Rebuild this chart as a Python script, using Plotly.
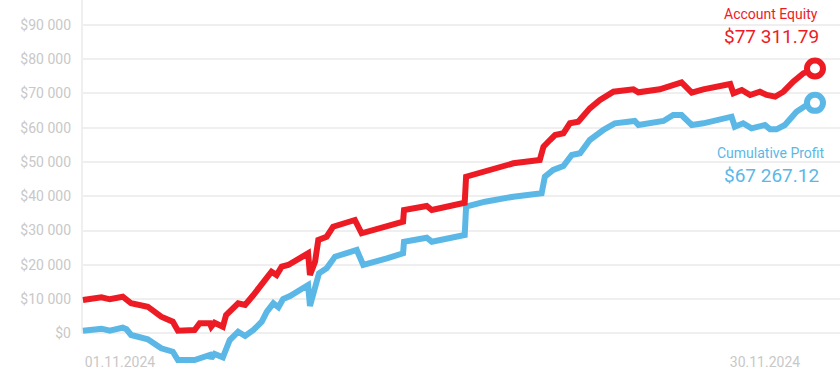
import plotly.graph_objects as go

# ---- data ----
profit_dates = [
    "2024-10-30 08:00", "2024-10-31 04:00", "2024-10-31 13:00", "2024-11-01 03:00",
    "2024-11-01 07:00", "2024-11-01 12:00", "2024-11-02 06:00", "2024-11-02 20:30",
    "2024-11-03 09:00", "2024-11-03 14:30", "2024-11-04 08:30", "2024-11-04 17:30",
    "2024-11-05 01:00", "2024-11-05 02:30", "2024-11-05 06:00", "2024-11-05 15:00",
    "2024-11-05 17:00", "2024-11-05 22:30", "2024-11-06 07:30", "2024-11-06 15:00",
    "2024-11-07 00:00", "2024-11-07 09:00", "2024-11-07 14:30", "2024-11-07 21:30",
    "2024-11-08 03:00", "2024-11-08 08:00", "2024-11-08 15:30", "2024-11-09 11:00",
    "2024-11-09 13:00", "2024-11-09 18:30", "2024-11-09 22:45", "2024-11-10 07:00",
    "2024-11-10 16:00", "2024-11-11 15:30", "2024-11-11 22:30", "2024-11-13 00:00",
    "2024-11-13 17:30", "2024-11-13 18:30", "2024-11-14 19:00", "2024-11-15 00:30",
    "2024-11-16 12:00", "2024-11-16 13:30", "2024-11-17 10:00", "2024-11-18 16:30",
    "2024-11-19 23:00", "2024-11-20 02:30", "2024-11-20 11:30", "2024-11-20 22:30",
    "2024-11-21 07:30", "2024-11-21 16:30", "2024-11-22 03:00", "2024-11-22 17:30",
    "2024-11-23 06:00", "2024-11-24 03:30", "2024-11-24 07:30", "2024-11-25 10:30",
    "2024-11-25 21:00", "2024-11-26 06:00", "2024-11-26 17:00", "2024-11-27 05:30",
    "2024-11-28 12:00", "2024-11-28 15:30", "2024-11-29 00:30", "2024-11-29 09:30",
    "2024-11-30 00:00", "2024-11-30 05:30", "2024-11-30 12:30", "2024-11-30 21:30",
    "2024-12-01 10:00", "2024-12-01 21:00", "2024-12-02 06:00",
]
cumulative_profit = [
    759, 1343, 759, 1635,
    1168, -496, -1751, -4379,
    -5371, -7794, -7794, -7006,
    -6334, -7298, -6042, -7006,
    -5838, -1956, 467, -788,
    963, 3386, 6305, 8757,
    7589, 10012, 10888, 14099,
    7969, 12639, 17514, 18974,
    22360, 24315, 19937, 21893,
    23352, 26738, 27906, 26738,
    28694, 36955, 38414, 39874,
    40866, 45712, 47667, 48835,
    52046, 52542, 56424, 59343,
    61299, 61970, 60803, 61970,
    63722, 63722, 60803, 61299,
    63226, 60307, 61299, 59840,
    60803, 59548, 59548, 60803,
    64685, 66641, 67267.12,
]

equity_dates = [
    "2024-10-30 08:00", "2024-10-31 04:00", "2024-10-31 13:00", "2024-11-01 03:00",
    "2024-11-01 12:00", "2024-11-02 06:00", "2024-11-02 20:30", "2024-11-03 09:00",
    "2024-11-03 14:30", "2024-11-04 08:30", "2024-11-04 14:00", "2024-11-05 01:00",
    "2024-11-05 02:30", "2024-11-05 06:00", "2024-11-05 15:00", "2024-11-05 18:30",
    "2024-11-06 07:30", "2024-11-06 15:00", "2024-11-07 00:00", "2024-11-07 09:00",
    "2024-11-07 19:30", "2024-11-08 01:00", "2024-11-08 06:30", "2024-11-08 13:30",
    "2024-11-09 11:00", "2024-11-09 13:00", "2024-11-09 18:30", "2024-11-09 22:00",
    "2024-11-10 07:00", "2024-11-10 14:00", "2024-11-11 13:30", "2024-11-11 20:45",
    "2024-11-13 00:00", "2024-11-13 17:30", "2024-11-13 18:30", "2024-11-14 19:00",
    "2024-11-15 00:30", "2024-11-16 12:00", "2024-11-16 13:30", "2024-11-17 08:00",
    "2024-11-18 16:30", "2024-11-19 21:00", "2024-11-20 01:00", "2024-11-20 08:00",
    "2024-11-20 13:30", "2024-11-20 22:30", "2024-11-21 05:30", "2024-11-21 14:30",
    "2024-11-22 03:00", "2024-11-22 14:00", "2024-11-23 04:30", "2024-11-24 02:00",
    "2024-11-24 07:30", "2024-11-25 06:30", "2024-11-25 21:00", "2024-11-26 06:00",
    "2024-11-26 17:00", "2024-11-27 05:30", "2024-11-28 10:30", "2024-11-28 14:00",
    "2024-11-28 23:00", "2024-11-29 08:00", "2024-11-29 18:30", "2024-11-30 02:00",
    "2024-11-30 11:00", "2024-11-30 20:00", "2024-12-01 06:30", "2024-12-01 17:30",
    "2024-12-02 06:00",
]
account_equity = [
    9720, 10508, 9925, 10684,
    8757, 7765, 4846, 3386,
    759, 963, 2919, 2919,
    1927, 3094, 1927, 5342,
    8757, 8261, 11180, 14595,
    17981, 17018, 19441, 19937,
    23352, 17018, 20900, 27234,
    28198, 31117, 33072, 29190,
    31117, 32576, 35991, 37159,
    35991, 38122, 45712, 47171,
    49623, 50586, 54469, 56424,
    57884, 58380, 61299, 61766,
    65678, 68100, 70523, 71224,
    70348, 71224, 72771, 73267,
    70231, 71224, 72771, 70056,
    71019, 69560, 70523, 69560,
    69064, 70523, 73442, 75894,
    77311.79,
]

y_tick_values = [0, 10000, 20000, 30000, 40000, 50000, 60000, 70000, 80000, 90000]
y_tick_labels = ["$0", "$10 000", "$20 000", "$30 000", "$40 000",
                 "$50 000", "$60 000", "$70 000", "$80 000", "$90 000"]
x_tick_values = ["2024-11-01", "2024-11-30"]
x_tick_labels = ["01.11.2024", "30.11.2024"]

equity_label = "Account Equity"
equity_value_text = "$77 311.79"
profit_label = "Cumulative Profit"
profit_value_text = "$67 267.12"

# ---- styling ----
RED = "#ed1c24"
BLUE = "#5bb8e6"
GRID = "#efefef"
TICK = "#c8c8c8"
FONT = "Roboto"

Y_MIN, Y_MAX = -14507, 97290
X_MIN, X_MAX = "2024-10-30 07:00", "2024-12-03 09:00"

fig = go.Figure()

fig.add_trace(go.Scatter(
    x=profit_dates, y=cumulative_profit, mode="lines",
    line=dict(color=BLUE, width=6), hoverinfo="skip", showlegend=False,
))
fig.add_trace(go.Scatter(
    x=equity_dates, y=account_equity, mode="lines",
    line=dict(color=RED, width=6), hoverinfo="skip", showlegend=False,
))
# end markers
fig.add_trace(go.Scatter(
    x=[profit_dates[-1]], y=[cumulative_profit[-1]], mode="markers",
    marker=dict(size=16, color="white", line=dict(color=BLUE, width=6)),
    hoverinfo="skip", showlegend=False, cliponaxis=False,
))
fig.add_trace(go.Scatter(
    x=[equity_dates[-1]], y=[account_equity[-1]], mode="markers",
    marker=dict(size=16, color="white", line=dict(color=RED, width=6)),
    hoverinfo="skip", showlegend=False, cliponaxis=False,
))

# vertical axis line from $0 up to the top
fig.add_shape(type="line", xref="paper", yref="y", x0=0, x1=0, y0=0, y1=Y_MAX,
              line=dict(color=GRID, width=2), layer="below")

annotations = [
    dict(text=equity_label, x=0.909, y=0.9634, size=14, color=RED),
    dict(text=equity_value_text, x=0.909, y=0.906, size=19, color=RED),
    dict(text=profit_label, x=0.909, y=0.6005, size=14, color=BLUE),
    dict(text=profit_value_text, x=0.909, y=0.543, size=19, color=BLUE),
]
for a in annotations:
    fig.add_annotation(text=a["text"], x=a["x"], y=a["y"], xref="paper", yref="paper",
                       xanchor="center", yanchor="middle", showarrow=False,
                       font=dict(family=FONT, size=a["size"], color=a["color"]))

fig.update_layout(
    width=840, height=383,
    margin=dict(l=82, r=0, t=0, b=0, pad=0),
    paper_bgcolor="white", plot_bgcolor="white",
    font=dict(family=FONT, size=14, color=TICK),
    xaxis=dict(
        type="date", range=[X_MIN, X_MAX],
        tickvals=x_tick_values, ticktext=x_tick_labels,
        anchor="free", position=0.081,
        showgrid=False, zeroline=False, showline=False, ticks="",
        automargin=False,
        tickfont=dict(family=FONT, size=14, color=TICK),
    ),
    yaxis=dict(
        range=[Y_MIN, Y_MAX], domain=[0, 1],
        tickvals=y_tick_values, ticktext=y_tick_labels,
        showgrid=True, gridcolor=GRID, gridwidth=2,
        zeroline=False, showline=False, ticks="",
        automargin=False,
        ticklabelstandoff=10,
        tickfont=dict(family=FONT, size=14, color=TICK),
    ),
)

fig.write_html(
    "out.html",
    config={"displayModeBar": False},
    post_script="document.body.style.margin='0';document.body.style.overflow='hidden';",
)
